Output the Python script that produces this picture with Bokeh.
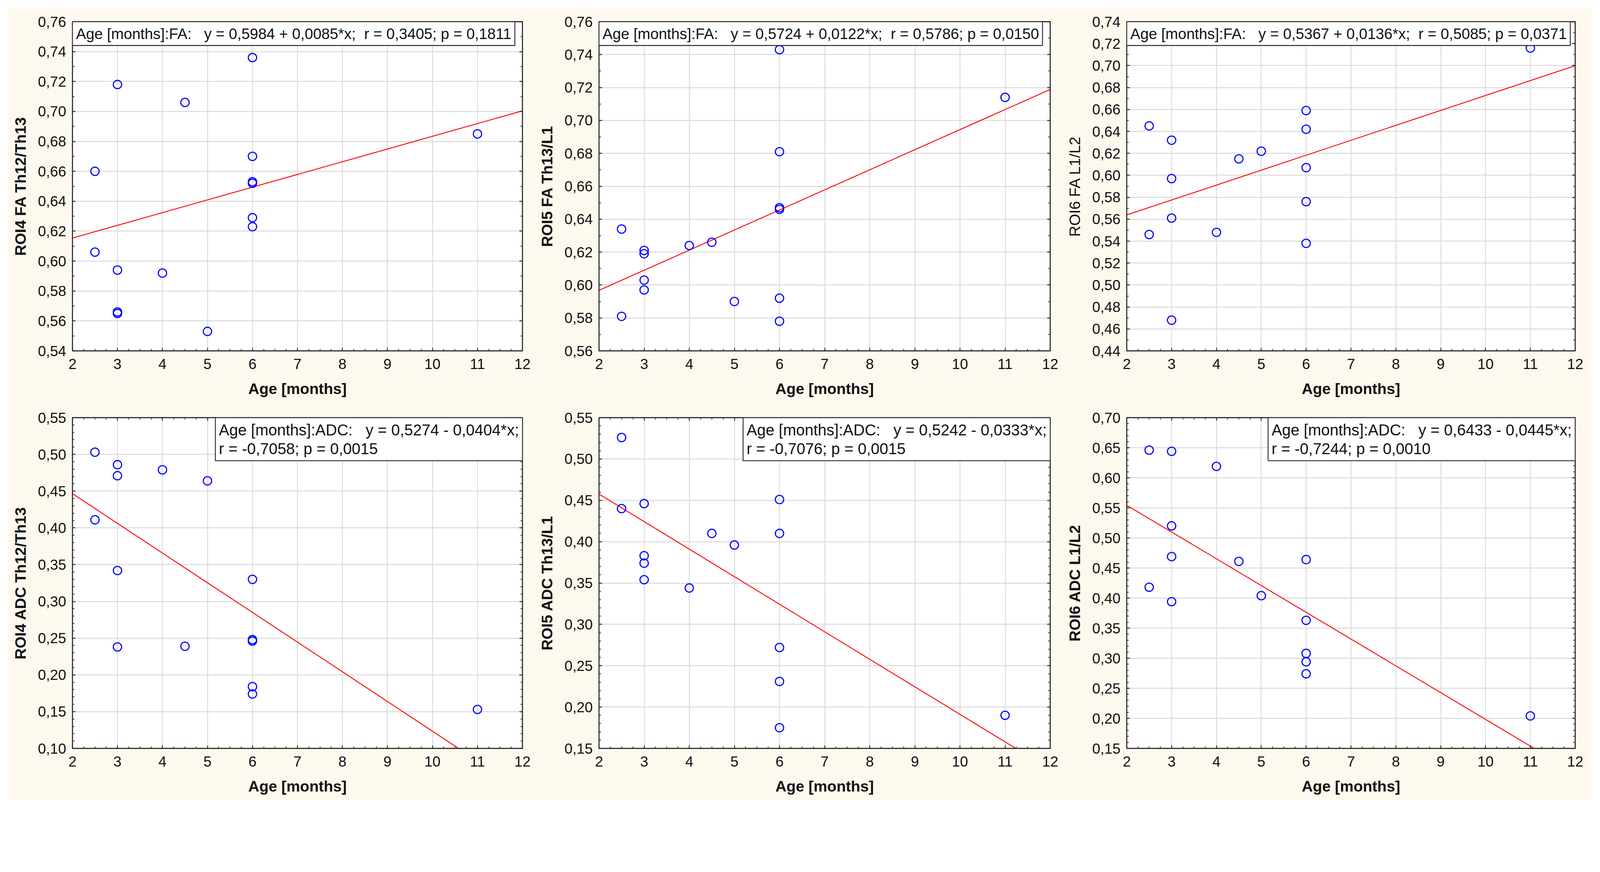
import numpy as np
from bokeh.plotting import figure
from bokeh.models import (Range1d, FixedTicker, CustomJSTickFormatter, LinearAxis,
                          Label, Spacer, CustomLabelingPolicy)
from bokeh.layouts import row, column
from bokeh.embed import file_html
from bokeh.resources import INLINE

# ---------------- data ----------------
age_fa4 = [2.5, 2.5, 3, 3, 3, 3, 4, 4.5, 5, 6, 6, 6, 6, 6, 6, 11]
fa4 = [0.660, 0.606, 0.718, 0.594, 0.566, 0.565, 0.592, 0.706, 0.553,
       0.736, 0.670, 0.653, 0.652, 0.629, 0.623, 0.685]

age_fa5 = [2.5, 2.5, 3, 3, 3, 3, 4, 4.5, 5, 6, 6, 6, 6, 6, 6, 11]
fa5 = [0.634, 0.581, 0.621, 0.619, 0.603, 0.597, 0.624, 0.626, 0.590,
       0.743, 0.681, 0.647, 0.646, 0.592, 0.578, 0.714]

age_fa6 = [2.5, 2.5, 3, 3, 3, 3, 4, 4.5, 5, 6, 6, 6, 6, 6, 11]
fa6 = [0.645, 0.546, 0.632, 0.597, 0.561, 0.468, 0.548, 0.615, 0.622,
       0.659, 0.642, 0.607, 0.576, 0.538, 0.716]

age_adc4 = [2.5, 2.5, 3, 3, 3, 3, 4, 4.5, 5, 6, 6, 6, 6, 6, 11]
adc4 = [0.503, 0.411, 0.486, 0.471, 0.342, 0.238, 0.479, 0.239, 0.464,
        0.330, 0.248, 0.246, 0.184, 0.174, 0.153]

age_adc5 = [2.5, 2.5, 3, 3, 3, 3, 4, 4.5, 5, 6, 6, 6, 6, 6, 11]
adc5 = [0.526, 0.440, 0.446, 0.383, 0.374, 0.354, 0.344, 0.410, 0.396,
        0.451, 0.410, 0.272, 0.231, 0.175, 0.190]

age_adc6 = [2.5, 2.5, 3, 3, 3, 3, 4, 4.5, 5, 6, 6, 6, 6, 6, 11]
adc6 = [0.646, 0.418, 0.644, 0.520, 0.469, 0.394, 0.619, 0.461, 0.404,
        0.464, 0.363, 0.308, 0.294, 0.274, 0.204]

intercepts = [0.5984, 0.5724, 0.5367, 0.5274, 0.5242, 0.6433]
slopes = [0.0085, 0.0122, 0.0136, -0.0404, -0.0333, -0.0445]

y_titles = ["ROI4 FA Th12/Th13", "ROI5 FA Th13/L1", "ROI6 FA L1/L2",
            "ROI4 ADC Th12/Th13", "ROI5 ADC Th13/L1", "ROI6 ADC L1/L2"]
x_title = "Age [months]"
NB = "\u00a0"
box_texts = [
    f"Age [months]:FA:{NB}{NB} y = 0,5984 + 0,0085*x;{NB} r = 0,3405; p = 0,1811",
    f"Age [months]:FA:{NB}{NB} y = 0,5724 + 0,0122*x;{NB} r = 0,5786; p = 0,0150",
    f"Age [months]:FA:{NB}{NB} y = 0,5367 + 0,0136*x;{NB} r = 0,5085; p = 0,0371",
    f"Age [months]:ADC:{NB}{NB} y = 0,5274 - 0,0404*x;\nr = -0,7058; p = 0,0015",
    f"Age [months]:ADC:{NB}{NB} y = 0,5242 - 0,0333*x;\nr = -0,7076; p = 0,0015",
    f"Age [months]:ADC:{NB}{NB} y = 0,6433 - 0,0445*x;\nr = -0,7244; p = 0,0010",
]
x_ticks = [2, 3, 4, 5, 6, 7, 8, 9, 10, 11, 12]
y_limits = [(0.54, 0.76, 0.02), (0.56, 0.76, 0.02), (0.44, 0.74, 0.02),
            (0.10, 0.55, 0.05), (0.15, 0.55, 0.05), (0.15, 0.70, 0.05)]

ages = [age_fa4, age_fa5, age_fa6, age_adc4, age_adc5, age_adc6]
vals = [fa4, fa5, fa6, adc4, adc5, adc6]

# ---------------- style / layout ----------------
# page appears rendered at ~1.075 device px per CSS px -> design in device px, scale down
S = 4096 / 4404


def px(v):
    return round(v * S, 1)


def ipx(v):
    return int(round(v * S))


def fs(v):
    return f"{v * S:.1f}px"


CREAM = "#FDF9EE"
FONT = "Liberation Sans"
INK = "#2b2b2b"
widths = [1454, 1450, 1455]
heights = [1089, 1093]
borders_lr = [(177, 38), (173, 36), (175, 45)]
borders_tb = [(40, 143), (41, 142)]
y_title_bold = [True, True, False, True, True, True]
box_font = [41.5, 41.5, 41.5, 43, 43, 43]
box_anchor = ["top_left", "top_left", "top_left", "top_right", "top_right", "top_right"]

ylab_fmt = CustomJSTickFormatter(code="return tick.toFixed(2).replace('.', ',');")
xlab_fmt = CustomJSTickFormatter(code="return tick.toFixed(0);")
no_labels = CustomLabelingPolicy(code="return new Set()")

plots = []
for i in range(6):
    r, c = divmod(i, 3)
    lo, hi, step = y_limits[i]
    y_major = list(np.round(np.arange(lo, hi + step / 2, step), 4))
    y_minor = list(np.round(np.arange(lo, hi + 0.005, 0.01), 4))
    x_minor = list(np.arange(2, 12.01, 0.25))
    xt = FixedTicker(ticks=x_ticks, minor_ticks=x_minor)
    yt = FixedTicker(ticks=y_major, minor_ticks=y_minor)

    p = figure(width=ipx(widths[c]), height=ipx(heights[r]), output_backend="svg",
               toolbar_location=None, x_range=Range1d(2, 12),
               y_range=Range1d(lo, hi),
               min_border_left=ipx(borders_lr[c][0]), min_border_right=ipx(borders_lr[c][1]),
               min_border_top=ipx(borders_tb[r][0]), min_border_bottom=ipx(borders_tb[r][1]))
    p.border_fill_color = CREAM
    p.background_fill_color = "white"
    p.outline_line_color = INK
    p.outline_line_width = px(2.5)

    ax_bottom = p.below[0]
    ax_left = p.left[0]
    ax_bottom.ticker = xt
    ax_left.ticker = yt
    ax_bottom.formatter = xlab_fmt
    ax_left.formatter = ylab_fmt
    p.xgrid.ticker = xt
    p.ygrid.ticker = yt
    for g in (p.xgrid, p.ygrid):
        g.grid_line_color = "#DADADA"
        g.grid_line_width = px(2.5)

    # tick-only axes on top and right
    ax_top = LinearAxis(ticker=xt, formatter=xlab_fmt, major_label_policy=no_labels,
                        major_label_standoff=0, major_label_text_font_size="9px")
    ax_right = LinearAxis(ticker=yt, formatter=ylab_fmt, major_label_policy=no_labels,
                          major_label_standoff=0, major_label_text_font_size="9px")
    p.add_layout(ax_top, "above")
    p.add_layout(ax_right, "right")

    for ax in (ax_bottom, ax_left, ax_top, ax_right):
        ax.axis_line_color = INK
        ax.axis_line_width = px(2.5)
        ax.major_tick_in = ipx(9)
        ax.major_tick_out = 0
        ax.minor_tick_in = ipx(5)
        ax.minor_tick_out = 0
        ax.major_tick_line_color = INK
        ax.minor_tick_line_color = INK
        ax.major_tick_line_width = px(2)
        ax.minor_tick_line_width = px(2)

    for ax in (ax_bottom, ax_left):
        ax.major_label_text_font = FONT
        ax.major_label_text_font_size = fs(40)
        ax.major_label_text_color = "#111111"
        ax.axis_label_text_font = FONT
        ax.axis_label_text_font_size = fs(42)
        ax.axis_label_text_color = "#111111"
    ax_bottom.axis_label = x_title
    ax_bottom.axis_label_text_font_style = "bold"
    ax_bottom.major_label_standoff = ipx(21)
    ax_bottom.axis_label_standoff = ipx(28)
    ax_left.axis_label = y_titles[i]
    ax_left.axis_label_text_font_style = "bold" if y_title_bold[i] else "normal"
    ax_left.major_label_standoff = ipx(17)
    ax_left.axis_label_standoff = ipx(22)

    # regression line from intercept and slope, clipped to the y range
    a, b = intercepts[i], slopes[i]
    x_end = 12.0
    if a + b * x_end < lo:
        x_end = (lo - a) / b
    if a + b * x_end > hi:
        x_end = (hi - a) / b
    xl = np.array([2.0, x_end])
    p.line(xl, a + b * xl, line_color="#FF0000", line_width=px(2.5))

    p.scatter(ages[i], vals[i], marker="circle", size=px(23), fill_color=None,
              line_color="#0000FF", line_width=px(3))

    anc = box_anchor[i]
    lab = Label(x=2 if anc == "top_left" else 12, y=hi, x_units="data", y_units="data",
                text=box_texts[i], anchor=anc,
                text_font=FONT, text_font_size=fs(box_font[i]), text_color="#111111",
                text_line_height=1.1,
                background_fill_color="white", border_line_color=INK,
                border_line_width=px(2.5), padding=ipx(10))
    p.add_layout(lab)
    plots.append(p)

grid = column(row(*plots[:3], spacing=0), row(*plots[3:], spacing=0), spacing=0)
layout = column(Spacer(height=ipx(21) - 8 + 6),
                row(Spacer(width=ipx(24) - 8 + 6), grid, spacing=0), spacing=0)

open("out.html", "w").write(file_html(layout, INLINE))
